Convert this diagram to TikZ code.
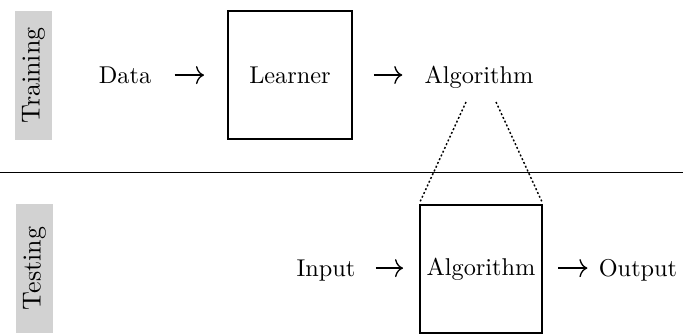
\documentclass[tikz,border=0pt]{standalone}
\usetikzlibrary{arrows.meta,calc}
\begin{document}
\begin{tikzpicture}[x=0.4115pt,y=-0.4115pt,
  phase/.style={rotate=90, fill=gray!35, minimum width=53.1pt, minimum height=15.2pt, inner sep=0pt, font=\fontsize{10.7}{13}\selectfont},
  word/.style={inner sep=0pt, text height=8pt, text depth=1.5pt, anchor=base},
  blockbox/.style={draw, line width=0.8pt, minimum height=52.7pt, inner sep=0pt},
  flow/.style={-{To[length=3.3pt,width=7.4pt]}, line width=0.55pt},
  zoomline/.style={dash pattern=on 0.8pt off 0.9pt, line width=0.6pt}]
\useasboundingbox (0,0) rectangle (683,333);

% phase labels
\node[phase] (train) at (33.5,75.5) {Training};
\node[phase] (test) at (34.5,268.5) {Testing};

% training row
\node[word] (data) at (125,83) {Data};
\node[blockbox, minimum width=51pt] (learner) at (290,75) {Learner};
\node[word] (algo) at (479,83) {Algorithm};
\draw[flow, shorten <=9.5pt, shorten >=9.5pt] (data.east) -- (data.east -| learner.west);
\draw[flow, shorten <=8.6pt, shorten >=9pt] (learner.east) -- (learner.east -| algo.west);

% divider between the phases
\coordinate (dl) at (0,172);
\coordinate (dr) at (683,172);
\draw[line width=0.4pt] (dl) -- (dr);

% testing row
\node[word] (input) at (326,276) {Input};
\node[blockbox, minimum width=50.2pt] (algbox) at (481,269) {Algorithm};
\node[word] (output) at (638,276) {Output};
\draw[flow, shorten <=8.2pt, shorten >=6.6pt] (input.east) -- (input.east -| algbox.west);
\draw[flow, shorten <=6.2pt, shorten >=4.5pt] (input.east -| algbox.east) -- (input.east -| output.west);

% zoom lines from the learned algorithm to its box
\coordinate (zl) at ($(algo.base)+(-13,19)$);
\coordinate (zr) at ($(algo.base)+(17,19)$);
\draw[zoomline, shorten >=1pt] (zl) -- (algbox.north west);
\draw[zoomline, shorten >=1pt] (zr) -- (algbox.north east);
\end{tikzpicture}
\end{document}
